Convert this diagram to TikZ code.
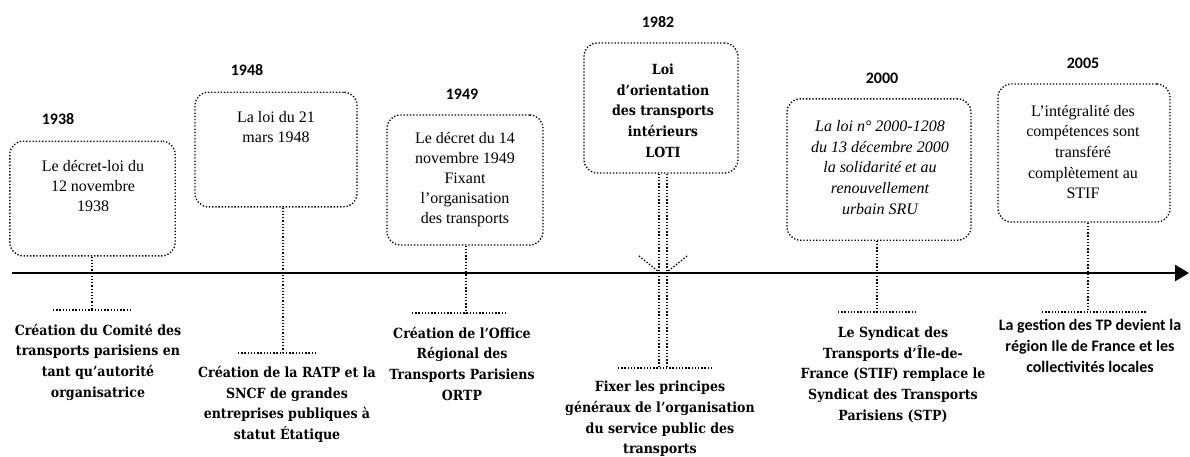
\documentclass[tikz,border=0pt]{standalone}
\usepackage{fontspec}
\setmainfont{Liberation Serif}
\newfontfamily\lblfont{DejaVu Serif Condensed}
\newfontfamily\yearfont{Carlito}
\usetikzlibrary{arrows.meta, calc}

\begin{document}
\begin{tikzpicture}[x=0.75pt, y=-0.75pt,
  dotline/.style={line width=1pt, dash pattern=on 1pt off 1.4pt},
  evbox/.style={draw, dotline, rounded corners=10pt, inner sep=0pt},
  evtext/.style={align=center, font=\fontsize{12}{15}\selectfont},
  evlabel/.style={align=center, font=\lblfont\fontsize{10.5}{15.5}\selectfont\bfseries},
  yearlbl/.style={font=\yearfont\fontsize{12}{14}\selectfont\bfseries}]
  \useasboundingbox (0,0) rectangle (1190,457);

  % time axis
  \coordinate (t0) at (12,273);
  \coordinate (t1) at (1189,273);
  \draw[line width=2pt, -{Triangle[length=10.5pt, width=12pt]}] (t0) -- (t1);

  % 1938
  \node[yearlbl] (y1938) at (58,119) {1938};
  \node[evbox, minimum width=124pt, minimum height=86pt] (b1938) at (92.5,198.5) {};
  \node[evtext] (t1938) at (93,186) {Le décret-loi du\\12 novembre\\1938};
  \coordinate (j1938) at (92,310);
  \draw[dotline] (b1938.south -| j1938) -- (j1938);
  \draw[dotline] ($(j1938)+(-39,0)$) -- ($(j1938)+(39,0)$);
  \node[evlabel] (l1938) at (98,362) {Création du Comité des\\transports parisiens en\\tant qu’autorité\\organisatrice};

  % 1948
  \node[yearlbl] (y1948) at (247,70) {1948};
  \node[evbox, minimum width=121.5pt, minimum height=86pt] (b1948) at (276,149.5) {};
  \node[evtext] (t1948) at (276,127.5) {La loi du 21\\mars 1948};
  \coordinate (j1948) at (283,353);
  \draw[dotline] (b1948.south -| j1948) -- (j1948);
  \draw[dotline] ($(j1948)+(-45,0)$) -- ($(j1948)+(34,0)$);
  \node[evlabel] (l1948) at (287,404.5) {Création de la RATP et la\\SNCF de grandes\\entreprises publiques à\\statut Étatique};

  % 1949
  \node[yearlbl] (y1949) at (462,94) {1949};
  \node[evbox, minimum width=117pt, minimum height=97.5pt] (b1949) at (465,180) {};
  \node[evtext] (t1949) at (465,180) {Le décret du 14\\novembre 1949\\Fixant\\l’organisation\\des transports};
  \coordinate (j1949) at (466,313);
  \draw[dotline] (b1949.south -| j1949) -- (j1949);
  \draw[dotline] ($(j1949)+(-54,0)$) -- ($(j1949)+(41,0)$);
  \node[evlabel] (l1949) at (462,363.5) {Création de l’Office\\Régional des\\Transports Parisiens\\ORTP};

  % 1982
  \node[yearlbl] (y1982) at (658,22) {1982};
  \node[evbox, minimum width=115.5pt, minimum height=97.5pt] (b1982) at (661,108) {};
  \node[evlabel] (t1982) at (663,110.5) {Loi\\d’orientation\\des transports\\intérieurs\\LOTI};
  \coordinate (j1982) at (663,368);
  \draw[dotline] ($(b1982.south -| j1982)+(-4,0)$) -- ($(j1982)+(-4,0)$);
  \draw[dotline] ($(b1982.south -| j1982)+(4,0)$) -- ($(j1982)+(4,0)$);
  \coordinate (a1) at (639,256);
  \coordinate (a2) at (687,256);
  \draw[dotline] (a1) -- ($(t0 -| j1982)+(-4,-1)$);
  \draw[dotline] (a2) -- ($(t0 -| j1982)+(4,-1)$);
  \draw[dotline] ($(j1982)+(-45,0)$) -- ($(j1982)+(50,0)$);
  \node[evlabel] (l1982) at (660,419) {Fixer les principes\\généraux de l’organisation\\du service public des\\transports};

  % 2000
  \node[yearlbl] (y2000) at (882,78) {2000};
  \node[evbox, minimum width=138pt, minimum height=106pt] (b2000) at (879,169.5) {};
  \node[evtext, font=\fontsize{12}{15.5}\selectfont\itshape] (t2000) at (880,167.5) {La loi n° 2000-1208\\du 13 décembre 2000\\la solidarité et au\\renouvellement\\urbain SRU};
  \coordinate (j2000) at (877,312);
  \draw[dotline] (b2000.south -| j2000) -- (j2000);
  \draw[dotline] ($(j2000)+(-39,0)$) -- ($(j2000)+(40,0)$);
  \node[evlabel] (l2000) at (893,374.5) {Le Syndicat des\\Transports d’Île-de-\\France (STIF) remplace le\\Syndicat des Transports\\Parisiens (STP)};

  % 2005
  \node[yearlbl] (y2005) at (1083,63) {2005};
  \node[evbox, minimum width=129pt, minimum height=103.5pt] (b2005) at (1084,153) {};
  \node[evtext, font=\fontsize{12}{15.5}\selectfont] (t2005) at (1083,152) {L’intégralité des\\compétences sont\\transféré\\complètement au\\STIF};
  \coordinate (j2005) at (1088,312);
  \draw[dotline] (b2005.south -| j2005) -- (j2005);
  \draw[dotline] ($(j2005)+(-46,0)$) -- ($(j2005)+(59,0)$);
  \node[evlabel, font=\yearfont\fontsize{12}{15.5}\selectfont\bfseries] (l2005) at (1090,346) {La gestion des TP devient la\\région Ile de France et les\\collectivités locales};
\end{tikzpicture}
\end{document}
